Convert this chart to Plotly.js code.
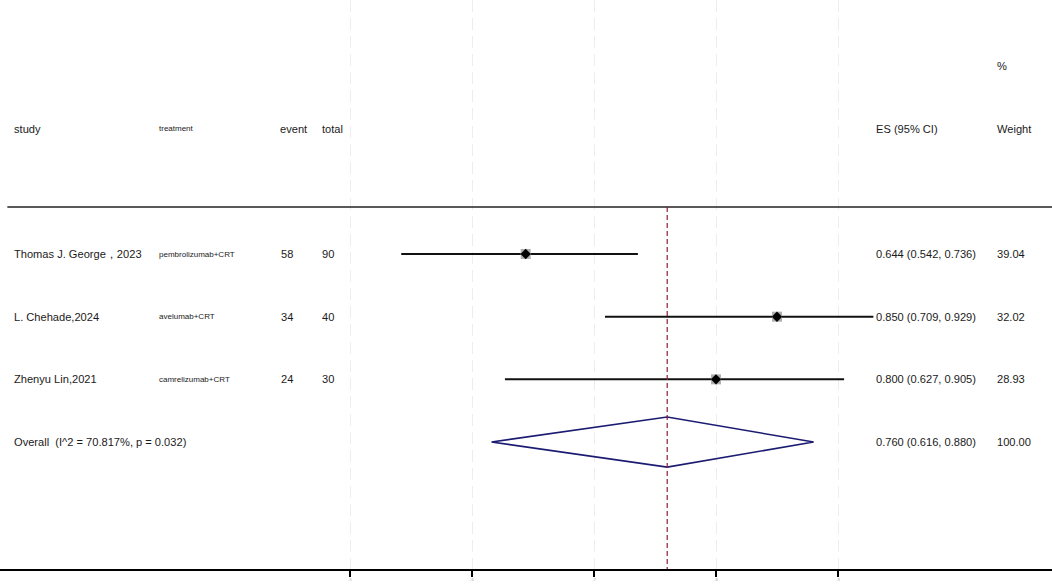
<!DOCTYPE html>
<html>
<head>
<meta charset="utf-8">
<script src="https://cdn.plot.ly/plotly-3.0.1.min.js"></script>
<style>
  body { margin: 0; background: #fff; }
  #forest { width: 1052px; height: 586px; }
</style>
</head>
<body>
<div id="forest"></div>
<script>
// study data
var studies = ['Thomas J. George，2023', 'L. Chehade,2024', 'Zhenyu Lin,2021'];
var treatments = ['pembrolizumab+CRT', 'avelumab+CRT', 'camrelizumab+CRT'];
var events = [58, 34, 24];
var totals = [90, 40, 30];
var es = [0.644, 0.850, 0.800];
var lower = [0.542, 0.709, 0.627];
var upper = [0.736, 0.929, 0.905];
var weights = [39.04, 32.02, 28.93];

// pooled estimate
var overallLabel = 'Overall  (I^2 = 70.817%, p = 0.032)';
var overallEs = 0.760;
var overallLo = 0.616;
var overallHi = 0.880;
var overallWeight = 100.00;

var tickVals = [0.5, 0.6, 0.7, 0.8, 0.9];
var tickLabels = ['.5', '.6', '.7', '.8', '.9'];

function fmt3(v) { return v.toFixed(3); }

var data = [];
var annotations = [];
var txtFont = {family: 'Liberation Sans, Arial, sans-serif', size: 11.1, color: '#1a1a1a'};
var smallFont = {family: 'Liberation Sans, Arial, sans-serif', size: 8, color: '#1a1a1a'};

// px = where the text should start, annotations add ~2px padding
function addText(px, row, txt, font) {
  annotations.push({
    xref: 'paper', yref: 'y', x: (px - 2) / 1052, y: row,
    text: txt, showarrow: false, xanchor: 'left', yanchor: 'middle',
    font: font
  });
}

// header
addText(14, -2, 'study', txtFont);
addText(159, -2, 'treatment', smallFont);
addText(280, -2, 'event', txtFont);
addText(322, -2, 'total', txtFont);
addText(876, -2, 'ES (95% CI)', txtFont);
addText(997, -3, '%', txtFont);
addText(997, -2, 'Weight', txtFont);

for (var i = 0; i < studies.length; i++) {
  addText(14, i, studies[i], txtFont);
  addText(159, i, treatments[i], smallFont);
  addText(281, i, String(events[i]), txtFont);
  addText(322, i, String(totals[i]), txtFont);
  addText(876, i, fmt3(es[i]) + ' (' + fmt3(lower[i]) + ', ' + fmt3(upper[i]) + ')', txtFont);
  addText(997, i, weights[i].toFixed(2), txtFont);

  data.push({
    x: [lower[i], upper[i]], y: [i, i],
    mode: 'lines', type: 'scatter',
    line: {color: '#111', width: 2},
    hoverinfo: 'skip'
  });
}

// weight boxes + point estimates
data.push({
  x: es, y: [0, 1, 2], mode: 'markers', type: 'scatter',
  marker: {symbol: 'square', size: 10, color: '#b0b0b0'},
  hoverinfo: 'skip'
});
data.push({
  x: es, y: [0, 1, 2], mode: 'markers', type: 'scatter',
  marker: {symbol: 'diamond', size: 8, color: '#000'},
  hoverinfo: 'skip'
});

var oRow = studies.length;
addText(14, oRow, overallLabel, txtFont);
addText(876, oRow, fmt3(overallEs) + ' (' + fmt3(overallLo) + ', ' + fmt3(overallHi) + ')', txtFont);
addText(997, oRow, overallWeight.toFixed(2), txtFont);

data.push({
  x: [overallLo, overallEs, overallHi, overallEs, overallLo],
  y: [oRow, oRow - 0.4, oRow, oRow + 0.4, oRow],
  mode: 'lines', type: 'scatter',
  line: {color: '#1b1b72', width: 1.6},
  hoverinfo: 'skip'
});

var layout = {
  width: 1052, height: 586,
  margin: {l: 0, r: 0, t: 0, b: 17},
  paper_bgcolor: '#fff', plot_bgcolor: '#fff',
  showlegend: false,
  xaxis: {
    range: [0.5 - 350 / 1220, 0.5 + 702 / 1220],
    tickvals: tickVals, ticktext: tickLabels,
    ticks: 'outside', ticklen: 6, tickwidth: 1.5, tickcolor: '#000',
    tickfont: {size: 4, color: '#999'},
    showline: true, linecolor: '#000', linewidth: 1.5,
    showgrid: true, gridcolor: '#ededed', griddash: '12px,6px', gridwidth: 1,
    zeroline: false, fixedrange: true
  },
  yaxis: {
    range: [5.026, -4.053],
    showgrid: false, zeroline: false, showticklabels: false,
    showline: false, ticks: '', fixedrange: true
  },
  shapes: [
    {type: 'line', xref: 'paper', yref: 'y', x0: 0.007, x1: 1, y0: -0.75, y1: -0.75,
     line: {color: '#222', width: 1.5}},
    {type: 'line', xref: 'x', yref: 'y', x0: overallEs, x1: overallEs, y0: -0.75, y1: 5.026,
     line: {color: '#8b2035', width: 1.2, dash: '5px,3px'}}
  ],
  annotations: annotations
};

Plotly.newPlot('forest', data, layout, {displayModeBar: false, staticPlot: true});
</script>
</body>
</html>
